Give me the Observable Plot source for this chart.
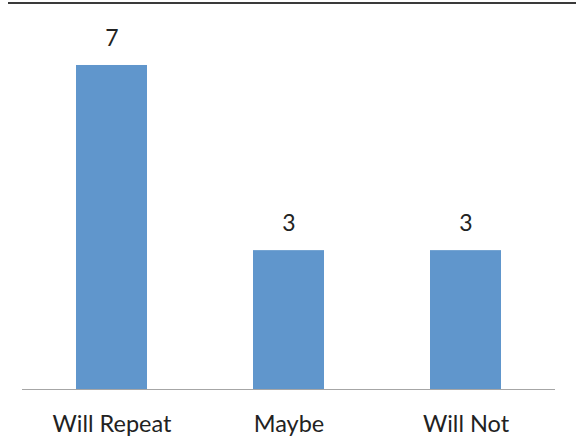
<!DOCTYPE html>
<html>
<head>
<meta charset="utf-8">
<script src="https://cdn.jsdelivr.net/npm/d3@7"></script>
<script src="https://cdn.jsdelivr.net/npm/@observablehq/plot@0.6"></script>
<style>
  html, body { margin: 0; padding: 0; background: #fff; }
  #chart { position: relative; width: 576px; height: 439px; }
  #chart .topline { position: absolute; left: 8px; right: 0; top: 2px; height: 0; border-top: 2px solid #3a3a3a; }
</style>
</head>
<body>
<div id="chart"><div class="topline"></div></div>
<script>
// Survey responses: will the respondent repeat?
const categories = ["Will Repeat", "Maybe", "Will Not"];
const counts = [7, 3, 3];

const data = categories.map((c, i) => ({category: c, count: counts[i]}));

const font = "Lato, 'Open Sans', 'DejaVu Sans', sans-serif";

const chart = Plot.plot({
  width: 576,
  height: 439,
  marginTop: 18.7,
  marginBottom: 50,
  marginLeft: 22,
  marginRight: 21,
  style: {fontFamily: font, background: "#fff", color: "#222"},
  x: {domain: categories, paddingInner: 0.6, paddingOuter: 0.3, label: null},
  y: {domain: [0, 8], axis: null},
  marks: [
    Plot.barY(data, {x: "category", y: "count", fill: "#6096cc"}),
    Plot.ruleY([0], {stroke: "#a6a6a6", strokeWidth: 1.2}),
    Plot.text(data, {x: "category", y: "count", text: d => String(d.count), dy: -27, fontSize: 23, fill: "#222"}),
    Plot.axisX({tickSize: 0, tickPadding: 26, fontSize: 23.5, fill: "#222"})
  ]
});

document.getElementById("chart").appendChild(chart);
</script>
</body>
</html>
